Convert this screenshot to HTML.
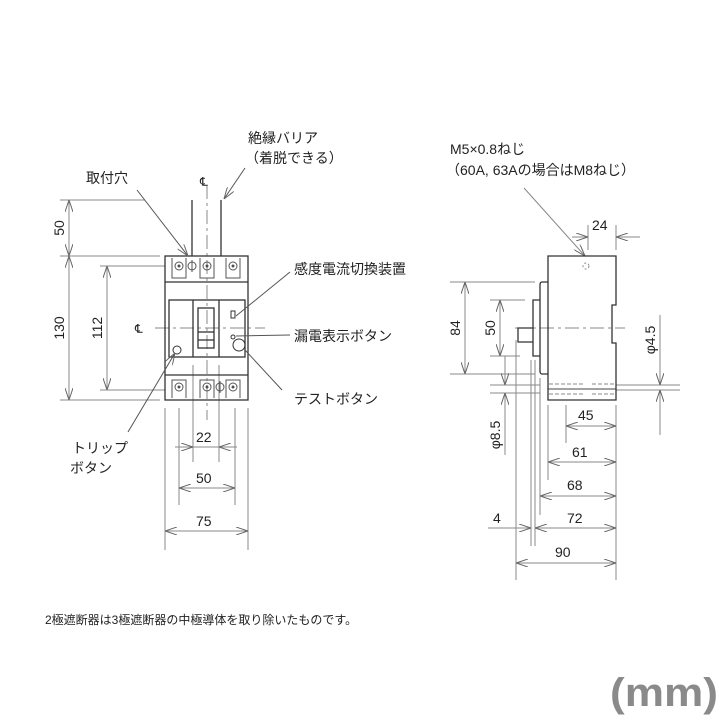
<!DOCTYPE html>
<html><head><meta charset="utf-8"><style>
html,body{margin:0;padding:0;background:#fff}
svg{display:block}
text{font-family:"Liberation Sans","Noto Sans CJK JP",sans-serif;fill:#222}
</style></head><body>
<svg width="720" height="720" viewBox="0 0 720 720" xmlns="http://www.w3.org/2000/svg">
<defs>
<marker id="a" viewBox="0 0 12 8" refX="12" refY="4" markerWidth="12" markerHeight="8" orient="auto-start-reverse" markerUnits="userSpaceOnUse">
<path d="M0,0 L12,4 L0,8" fill="none" stroke="#666" stroke-width="1"/></marker>
</defs>
<g stroke="#888" stroke-width="1" fill="none">
<line x1="60" y1="200" x2="145" y2="200"/>
<line x1="60" y1="256" x2="160" y2="256"/>
<line x1="60" y1="400" x2="160" y2="400"/>
<line x1="100" y1="266" x2="165" y2="266"/>
<line x1="100" y1="390" x2="165" y2="390"/>
<line x1="69" y1="200" x2="69" y2="256" marker-start="url(#a)" marker-end="url(#a)"/>
<line x1="69" y1="256" x2="69" y2="400" marker-start="url(#a)" marker-end="url(#a)"/>
<line x1="107" y1="266" x2="107" y2="390" marker-start="url(#a)" marker-end="url(#a)"/>
<line x1="165" y1="408" x2="165" y2="550"/>
<line x1="248" y1="408" x2="248" y2="550"/>
<line x1="179" y1="408" x2="179" y2="505"/>
<line x1="235" y1="408" x2="235" y2="505"/>
<line x1="193" y1="365" x2="193" y2="462"/>
<line x1="219" y1="365" x2="219" y2="462"/>
<line x1="175" y1="447" x2="193" y2="447" marker-end="url(#a)"/>
<line x1="237" y1="447" x2="219" y2="447" marker-end="url(#a)"/>
<line x1="193" y1="447" x2="219" y2="447"/>
<line x1="179" y1="488" x2="235" y2="488" marker-start="url(#a)" marker-end="url(#a)"/>
<line x1="165" y1="531" x2="248" y2="531" marker-start="url(#a)" marker-end="url(#a)"/>
<line x1="207" y1="185" x2="207" y2="420" stroke-dasharray="14,4,3,4"/>
<line x1="155" y1="328" x2="265" y2="328" stroke-dasharray="14,4,3,4"/>
</g>
<g stroke="#333" stroke-width="1.3" fill="none">
<line x1="192" y1="200" x2="192" y2="256"/>
<line x1="221" y1="200" x2="221" y2="256"/>
<rect x="165" y="256" width="83" height="144"/>
<line x1="165" y1="282" x2="248" y2="282"/>
<line x1="165" y1="375" x2="248" y2="375"/>
<rect x="169" y="300" width="76" height="57"/>
<line x1="193" y1="300" x2="193" y2="357"/>
<line x1="219" y1="300" x2="219" y2="357"/>
<rect x="198" y="308" width="16" height="40"/>
<line x1="198" y1="332" x2="214" y2="332"/>
<line x1="198" y1="340" x2="214" y2="340"/>
<rect x="231" y="311" width="4" height="7" stroke-width="1"/>
<circle cx="177" cy="350" r="4" stroke-width="1"/>
<circle cx="233" cy="337" r="2" stroke-width="1"/>
<circle cx="239" cy="345" r="6" stroke-width="1"/>
</g>
<g stroke="#555" stroke-width="1" fill="none">
<path d="M172,258 v20 h14 v-20"/><circle cx="179" cy="266" r="4"/><circle cx="179" cy="266" r="1" fill="#333"/>
<path d="M200,258 v20 h14 v-20"/><circle cx="207" cy="266" r="4"/><circle cx="207" cy="266" r="1" fill="#333"/>
<path d="M226,258 v20 h14 v-20"/><circle cx="233" cy="266" r="4"/><circle cx="233" cy="266" r="1" fill="#333"/>
<circle cx="192" cy="266" r="4"/><line x1="192" y1="260" x2="192" y2="272"/>
<path d="M172,398 v-18 h14 v18"/><circle cx="179" cy="387" r="4"/><circle cx="179" cy="387" r="1" fill="#333"/>
<path d="M200,398 v-18 h14 v18"/><circle cx="207" cy="387" r="4"/><circle cx="207" cy="387" r="1" fill="#333"/>
<path d="M226,398 v-18 h14 v18"/><circle cx="233" cy="387" r="4"/><circle cx="233" cy="387" r="1" fill="#333"/>
<circle cx="220" cy="387" r="4"/><line x1="220" y1="381" x2="220" y2="393"/>
<line x1="137" y1="190" x2="188" y2="256" marker-end="url(#a)"/>
<line x1="245" y1="168" x2="224" y2="199" marker-end="url(#a)"/>
<line x1="290" y1="272" x2="236" y2="316"/>
<line x1="290" y1="335" x2="236" y2="336"/>
<line x1="282" y1="390" x2="245" y2="350"/>
<line x1="128" y1="432" x2="175" y2="353" marker-end="url(#a)"/>
</g>
<g font-size="14">
<text x="248" y="143">絶縁バリア</text>
<text x="245" y="163">（着脱できる）</text>
<text x="86" y="183">取付穴</text>
<text x="200" y="186" font-size="12">℄</text>
<text x="135" y="333" font-size="12">℄</text>
<text x="294" y="274">感度電流切換装置</text>
<text x="294" y="341">漏電表示ボタン</text>
<text x="294" y="404">テストボタン</text>
<text x="72" y="453">トリップ</text>
<text x="70" y="473">ボタン</text>
<text x="196" y="442">22</text>
<text x="196" y="483">50</text>
<text x="196" y="526">75</text>
<text transform="translate(64,228) rotate(-90)" text-anchor="middle">50</text>
<text transform="translate(64,328) rotate(-90)" text-anchor="middle">130</text>
<text transform="translate(102,328) rotate(-90)" text-anchor="middle">112</text>
</g>
<g stroke="#888" stroke-width="1" fill="none">
<line x1="588" y1="225" x2="588" y2="250"/>
<line x1="616" y1="225" x2="616" y2="250"/>
<line x1="572" y1="237" x2="588" y2="237" marker-end="url(#a)"/>
<line x1="640" y1="237" x2="616" y2="237" marker-end="url(#a)"/>
<line x1="450" y1="282" x2="535" y2="282"/>
<line x1="450" y1="374" x2="535" y2="374"/>
<line x1="465" y1="282" x2="465" y2="374" marker-start="url(#a)" marker-end="url(#a)"/>
<line x1="490" y1="300" x2="525" y2="300"/>
<line x1="490" y1="356" x2="520" y2="356"/>
<line x1="500" y1="300" x2="500" y2="356" marker-start="url(#a)" marker-end="url(#a)"/>
<line x1="490" y1="385" x2="540" y2="385"/>
<line x1="490" y1="393" x2="540" y2="393"/>
<line x1="505" y1="356" x2="505" y2="385" marker-end="url(#a)"/>
<line x1="505" y1="455" x2="505" y2="393" marker-end="url(#a)"/>
<line x1="616" y1="385" x2="680" y2="385"/>
<line x1="616" y1="390" x2="680" y2="390"/>
<line x1="660" y1="315" x2="660" y2="385" marker-end="url(#a)"/>
<line x1="660" y1="435" x2="660" y2="390" marker-end="url(#a)"/>
<line x1="516" y1="340" x2="516" y2="580"/>
<line x1="531" y1="360" x2="531" y2="546"/>
<line x1="535" y1="360" x2="535" y2="546"/>
<line x1="540" y1="378" x2="540" y2="515"/>
<line x1="548" y1="405" x2="548" y2="480"/>
<line x1="566" y1="405" x2="566" y2="443"/>
<line x1="616" y1="405" x2="616" y2="580"/>
<line x1="566" y1="426" x2="616" y2="426" marker-start="url(#a)" marker-end="url(#a)"/>
<line x1="548" y1="462" x2="616" y2="462" marker-start="url(#a)" marker-end="url(#a)"/>
<line x1="540" y1="496" x2="616" y2="496" marker-start="url(#a)" marker-end="url(#a)"/>
<line x1="535" y1="528" x2="616" y2="528" marker-start="url(#a)" marker-end="url(#a)"/>
<line x1="488" y1="528" x2="531" y2="528" marker-end="url(#a)"/>
<line x1="516" y1="563" x2="616" y2="563" marker-start="url(#a)" marker-end="url(#a)"/>
<line x1="515" y1="328" x2="625" y2="328" stroke-dasharray="14,4,3,4"/>
<line x1="524" y1="188" x2="585" y2="256" marker-end="url(#a)"/>
<path d="M549,384 h36 M592,384 h22 M549,394 h36 M592,394 h22" stroke-dasharray="4,2"/>
<line x1="548" y1="389" x2="616" y2="389" stroke="#444"/>
<circle cx="586" cy="266" r="3" stroke-dasharray="2,2"/>
</g>
<g stroke="#333" stroke-width="1.3" fill="none">
<path d="M548,256 H616 V305 H612 V343 H616 V400 H548 Z"/>
<path d="M548,282 H542 Q540,282 540,285 V371 Q540,374 542,374 H548"/>
<path d="M540,300 H533 V356 H540"/>
<path d="M533,328 H518 V342 H533"/>
</g>
<g font-size="14">
<text x="450" y="154">M5×0.8ねじ</text>
<text x="446" y="175">（60A, 63Aの場合はM8ねじ）</text>
<text x="592" y="230">24</text>
<text x="578" y="420">45</text>
<text x="572" y="457">61</text>
<text x="567" y="490">68</text>
<text x="567" y="523">72</text>
<text x="493" y="523">4</text>
<text x="555" y="557">90</text>
<text transform="translate(460,328) rotate(-90)" text-anchor="middle">84</text>
<text transform="translate(495,328) rotate(-90)" text-anchor="middle">50</text>
<text transform="translate(500,435) rotate(-90)" text-anchor="middle">φ8.5</text>
<text transform="translate(655,340) rotate(-90)" text-anchor="middle">φ4.5</text>
<text x="45" y="624" font-size="12">2極遮断器は3極遮断器の中極導体を取り除いたものです。</text>
<text x="610" y="706" font-size="40" font-weight="bold" textLength="108" lengthAdjust="spacingAndGlyphs" style="fill:#8a8a8a">(mm)</text>
</g>
</svg>
</body></html>
